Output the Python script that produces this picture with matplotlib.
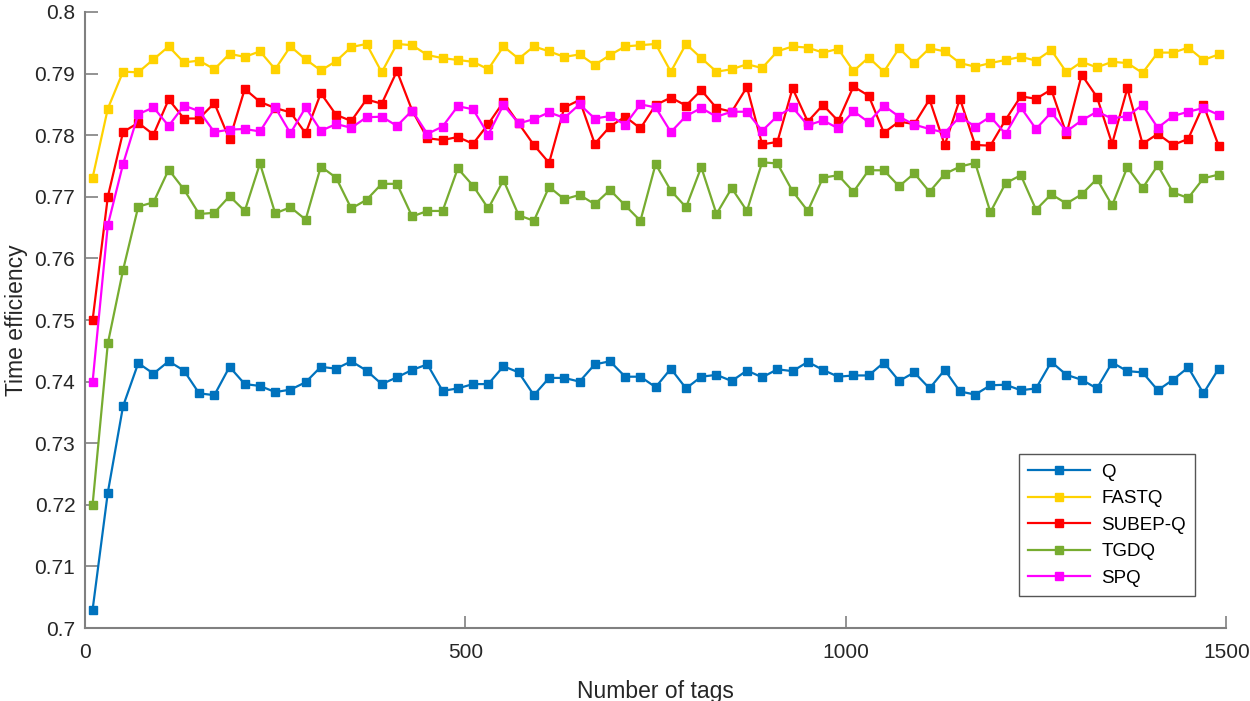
import numpy as np
import matplotlib.pyplot as plt
from matplotlib.ticker import FuncFormatter

plt.rcParams['font.family'] = ['Liberation Sans', 'DejaVu Sans']

tags = np.arange(10, 1500, 20)

q = [0.703, 0.722, 0.736,
     0.7430, 0.7413, 0.7433, 0.7418, 0.7381, 0.7378, 0.7424, 0.7396, 0.7393, 0.7383,
     0.7387, 0.7399, 0.7424, 0.7421, 0.7433, 0.7418, 0.7396, 0.7407, 0.7419, 0.7428,
     0.7385, 0.7389, 0.7396, 0.7396, 0.7425, 0.7415, 0.7378, 0.7406, 0.7406, 0.7400,
     0.7428, 0.7433, 0.7408, 0.7408, 0.7391,
     0.7421, 0.7389, 0.7408, 0.7411, 0.7401, 0.7418, 0.7407, 0.7420, 0.7417, 0.7432,
     0.7419, 0.7408, 0.7410, 0.7410, 0.7431, 0.7401, 0.7415, 0.7389, 0.7419, 0.7384,
     0.7379, 0.7394, 0.7395, 0.7386, 0.7389, 0.7432, 0.7411, 0.7403, 0.7389, 0.7431,
     0.7417, 0.7415, 0.7386, 0.7403, 0.7423, 0.7381, 0.7421]

fastq = [0.7731, 0.7843, 0.7903, 0.7902, 0.7923, 0.7944, 0.7918, 0.7921, 0.7907, 0.7932,
         0.7927, 0.7936, 0.7907, 0.7944, 0.7923, 0.7905, 0.7920, 0.7943, 0.7948, 0.7902,
         0.7948, 0.7946, 0.7930, 0.7925, 0.7922, 0.7919, 0.7907, 0.7944, 0.7924, 0.7944,
         0.7936, 0.7927, 0.7931, 0.7914, 0.7930, 0.7944, 0.7946, 0.7948, 0.7903,
         0.7948, 0.7925, 0.7903, 0.7907, 0.7915, 0.7909, 0.7936, 0.7944, 0.7942, 0.7934,
         0.7940, 0.7904, 0.7926, 0.7903, 0.7941, 0.7917, 0.7941, 0.7936, 0.7917,
         0.7911, 0.7917, 0.7922, 0.7927, 0.7921, 0.7938, 0.7902, 0.7919, 0.7910, 0.7919,
         0.7917, 0.7901, 0.7934, 0.7934, 0.7942, 0.7922, 0.7931]

subepq = [0.7500, 0.7700, 0.7805, 0.7820, 0.7801, 0.7858, 0.7827, 0.7827, 0.7852, 0.7793,
          0.7875, 0.7854, 0.7844, 0.7837, 0.7803, 0.7868, 0.7833, 0.7823, 0.7858, 0.7851,
          0.7904, 0.7840, 0.7795, 0.7792, 0.7797, 0.7786, 0.7818, 0.7854, 0.7819, 0.7784,
          0.7755, 0.7845, 0.7857, 0.7786, 0.7814, 0.7830, 0.7811, 0.7849, 0.7861,
          0.7848, 0.7873, 0.7844, 0.7838, 0.7878, 0.7785, 0.7789, 0.7876, 0.7822, 0.7849,
          0.7823, 0.7879, 0.7864, 0.7804, 0.7822, 0.7818, 0.7858, 0.7784, 0.7859,
          0.7784, 0.7783, 0.7825, 0.7863, 0.7859, 0.7874, 0.7802, 0.7898, 0.7862, 0.7786,
          0.7876, 0.7786, 0.7802, 0.7784, 0.7794, 0.7849, 0.7783]

tgdq = [0.7200, 0.7462, 0.7581, 0.7684, 0.7691, 0.7744, 0.7712, 0.7672, 0.7674, 0.7701,
        0.7677, 0.7754, 0.7673, 0.7683, 0.7663, 0.7749, 0.7731, 0.7681, 0.7695, 0.7721,
        0.7721, 0.7668, 0.7677, 0.7677, 0.7746, 0.7718, 0.7681, 0.7727, 0.7670, 0.7661,
        0.7716, 0.7696, 0.7703, 0.7688, 0.7711, 0.7686, 0.7661, 0.7753, 0.7710,
        0.7683, 0.7748, 0.7672, 0.7714, 0.7677, 0.7756, 0.7754, 0.7709, 0.7677, 0.7731,
        0.7735, 0.7708, 0.7743, 0.7743, 0.7717, 0.7738, 0.7708, 0.7737, 0.7749,
        0.7755, 0.7675, 0.7722, 0.7735, 0.7679, 0.7704, 0.7689, 0.7704, 0.7729, 0.7686,
        0.7748, 0.7714, 0.7751, 0.7707, 0.7698, 0.7730, 0.7736]

spq = [0.7400, 0.7654, 0.7753, 0.7834, 0.7845, 0.7815, 0.7848, 0.7839, 0.7805, 0.7809,
       0.7810, 0.7806, 0.7845, 0.7803, 0.7845, 0.7807, 0.7818, 0.7812, 0.7829, 0.7830,
       0.7815, 0.7840, 0.7802, 0.7814, 0.7847, 0.7842, 0.7801, 0.7849, 0.7819, 0.7826,
       0.7837, 0.7828, 0.7850, 0.7827, 0.7831, 0.7817, 0.7850, 0.7845, 0.7805,
       0.7831, 0.7844, 0.7830, 0.7838, 0.7838, 0.7807, 0.7831, 0.7845, 0.7816, 0.7824,
       0.7811, 0.7839, 0.7821, 0.7848, 0.7830, 0.7817, 0.7810, 0.7804, 0.7830,
       0.7814, 0.7830, 0.7802, 0.7845, 0.7810, 0.7837, 0.7806, 0.7824, 0.7838, 0.7827,
       0.7831, 0.7849, 0.7812, 0.7831, 0.7838, 0.7844, 0.7833]

series = [(q, 'Q', '#0072BD'),
          (fastq, 'FASTQ', '#FFD200'),
          (subepq, 'SUBEP-Q', '#FF0000'),
          (tgdq, 'TGDQ', '#77AC30'),
          (spq, 'SPQ', '#FF00FF')]

fig = plt.figure(figsize=(12.5, 7.01), dpi=100)
ax = fig.add_axes([0.068, 0.104, 0.913, 0.879])

for vals, name, col in series:
    ax.plot(tags, vals, '-s', color=col, lw=1.6, ms=5.5, label=name)

ax.set_xlim(0, 1500)
ax.set_ylim(0.7, 0.8)
ax.set_xticks([0, 500, 1000, 1500])
ax.set_yticks(np.linspace(0.7, 0.8, 11))
ax.yaxis.set_major_formatter(FuncFormatter(lambda v, p: '%g' % round(v, 2)))
ax.tick_params(direction='in', length=9, width=1.2, labelsize=15, color='#808080',
               labelcolor='#262626')
ax.tick_params(axis='x', pad=11)
ax.tick_params(axis='y', pad=7)
for s in ['top', 'right']:
    ax.spines[s].set_visible(False)
for s in ['left', 'bottom']:
    ax.spines[s].set_color('#808080')
    ax.spines[s].set_linewidth(1.5)

ax.set_xlabel('Number of tags', fontsize=16.5, labelpad=13, color='#262626')
ax.set_ylabel('Time efficiency', fontsize=16.5, labelpad=5, color='#262626')

leg = ax.legend(loc='lower right', bbox_to_anchor=(0.973, 0.052), fontsize=13.5,
                handlelength=3.3, fancybox=False, framealpha=1, borderpad=0.5,
                labelspacing=0.5, handletextpad=0.6, borderaxespad=0)
leg.get_frame().set_edgecolor('#555555')
leg.get_frame().set_linewidth(1.0)

plt.savefig('out.png', dpi=100)
